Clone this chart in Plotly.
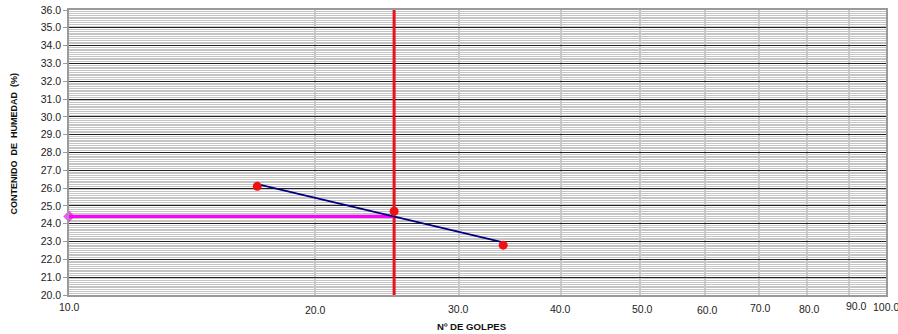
import numpy as np
import plotly.graph_objects as go

# Ensayo de límite líquido (Casagrande)
golpes = [17, 25, 34]
humedad = [26.1, 24.7, 22.8]

golpes_ref = 25  # número de golpes para el límite líquido

x_tick_vals = [10, 20, 30, 40, 50, 60, 70, 80, 90, 100]
x_tick_text = ["10.0", "20.0", "30.0", "40.0", "50.0", "60.0", "70.0", "80.0", "90.0", "100.0"]
y_min, y_max = 20, 36

# Recta de fluidez: ajuste humedad vs log10(golpes)
pend, orden = np.polyfit(np.log10(golpes), humedad, 1)
x_recta = [min(golpes), max(golpes)]
y_recta = [pend * np.log10(v) + orden for v in x_recta]
limite_liquido = pend * np.log10(golpes_ref) + orden

# desplazamientos (px) de las etiquetas del eje X
label_dx = [0, 1, 0, 0, 2, 2.5, 1, 3, 8, 0]
label_dy = [-12, -15, -13.5, -14, -14, -15, -13, -14, -11, -12]

fig = go.Figure()

# línea de 25 golpes
fig.add_trace(go.Scatter(
    x=[golpes_ref, golpes_ref], y=[y_min, y_max], mode="lines",
    line=dict(color="#e8141b", width=3), hoverinfo="skip", showlegend=False))

# línea horizontal del límite líquido
fig.add_trace(go.Scatter(
    x=[x_tick_vals[0], golpes_ref], y=[limite_liquido, limite_liquido],
    mode="lines+markers", cliponaxis=False,
    line=dict(color="#ff00ff", width=3),
    marker=dict(symbol="diamond", size=[9, 0], color="#ff00ff",
                line=dict(width=0)),
    showlegend=False))

# recta de fluidez
fig.add_trace(go.Scatter(
    x=x_recta, y=y_recta, mode="lines",
    line=dict(color="#000080", width=1.8), showlegend=False))

# puntos del ensayo
fig.add_trace(go.Scatter(
    x=golpes, y=humedad, mode="markers",
    marker=dict(color="#ee1111", size=9, line=dict(width=0)), showlegend=False))

annotations = []
for v, t, dx, dy in zip(x_tick_vals, x_tick_text, label_dx, label_dy):
    annotations.append(dict(
        x=np.log10(v), xref="x", y=0, yref="paper", text=t, showarrow=False,
        xanchor="center", yanchor="middle", xshift=dx, yshift=dy,
        font=dict(family="Liberation Sans, Arial, sans-serif", size=10.5, color="#222")))

annotations.append(dict(
    x=0.493, xref="paper", y=0, yref="paper", text="<b>Nº DE GOLPES</b>",
    showarrow=False, xanchor="center", yanchor="middle", yshift=-31,
    font=dict(family="Liberation Sans, Arial, sans-serif", size=9.6, color="#111")))

annotations.append(dict(
    x=0, xref="paper", y=0.532, yref="paper",
    text="<b>CONTENIDO  DE  HUMEDAD  (%)</b>", textangle=-90,
    showarrow=False, xanchor="center", yanchor="middle", xshift=-55,
    font=dict(family="Liberation Sans, Arial, sans-serif", size=9, color="#111")))

fig.update_layout(
    width=898, height=334,
    margin=dict(l=69, r=12, t=10, b=38.5, autoexpand=False),
    paper_bgcolor="white", plot_bgcolor="white",
    annotations=annotations,
    xaxis=dict(
        type="log", range=[1, 2], automargin=False,
        tickvals=x_tick_vals, showticklabels=False,
        showgrid=True, gridcolor="#c8c8c8", gridwidth=1.5,
        showline=True, linecolor="#9a9a9a", linewidth=1.5, mirror=True,
        ticks="", zeroline=False),
    yaxis=dict(
        range=[y_min, y_max], dtick=1, tickformat=".1f", automargin=False,
        showgrid=True, gridcolor="#222222", gridwidth=1.3,
        minor=dict(dtick=0.1, showgrid=True, gridcolor="#c4c4c4", gridwidth=1),
        showline=True, linecolor="#9a9a9a", linewidth=1.5, mirror=True,
        ticks="outside", ticklen=4, tickcolor="#9a9a9a",
        tickfont=dict(family="Liberation Sans, Arial, sans-serif", size=10.5, color="#222"),
        zeroline=False),
)

fig.write_html("out.html")
